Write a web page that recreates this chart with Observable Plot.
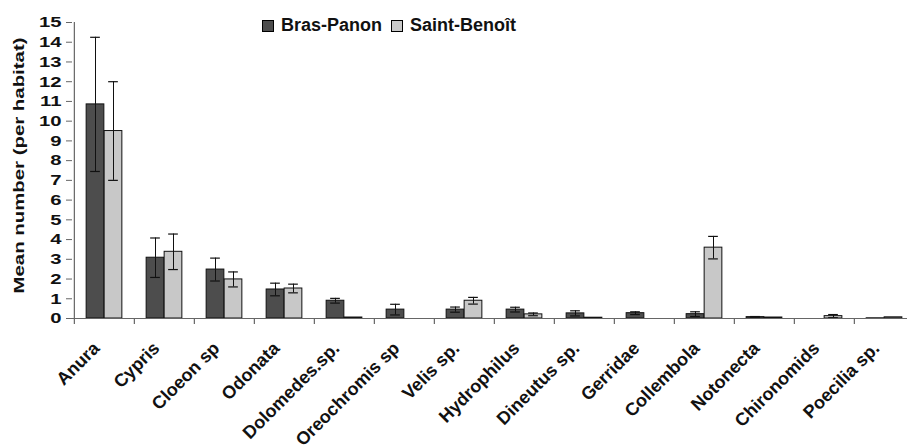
<!DOCTYPE html>
<html>
<head>
<meta charset="utf-8">
<script src="https://cdn.jsdelivr.net/npm/d3@7"></script>
<script src="https://cdn.jsdelivr.net/npm/@observablehq/plot@0.6"></script>
<style>
  html, body { margin: 0; padding: 0; background: #fff; overflow: hidden; }
  #wrap { position: relative; width: 907px; height: 446px; font-family: "Liberation Sans", Arial, sans-serif; }
  #legend { position: absolute; left: 262px; top: 15px; display: flex; align-items: center; font-weight: bold; font-size: 18px; color: #111; }
  #legend .sw { width: 10px; height: 10px; border: 1px solid #000; margin-right: 7px; }
  #legend .item { display: flex; align-items: center; margin-right: 9px; }
</style>
</head>
<body>
<div id="wrap"></div>
<script>
const categories = ["Anura","Cypris","Cloeon sp","Odonata","Dolomedes.sp.","Oreochromis sp","Velis sp.","Hydrophilus","Dineutus sp.","Gerridae","Collembola","Notonecta","Chironomids","Poecilia sp."];
const brasPanon    = [10.85, 3.08, 2.48, 1.47, 0.90, 0.45, 0.45, 0.45, 0.26, 0.27, 0.22, 0.07, 0.00, 0.01];
const brasPanonErr = [3.40, 1.00, 0.58, 0.32, 0.12, 0.27, 0.13, 0.12, 0.13, 0.07, 0.12, 0.03, 0.00, 0.00];
const saintBenoit    = [9.50, 3.38, 1.98, 1.52, 0.05, 0.00, 0.90, 0.21, 0.04, 0.00, 3.59, 0.05, 0.12, 0.06];
const saintBenoitErr = [2.50, 0.90, 0.38, 0.22, 0.00, 0.00, 0.17, 0.07, 0.00, 0.00, 0.57, 0.00, 0.08, 0.00];
const yTicks = d3.range(0, 16);
const seriesNames = ["Bras-Panon", "Saint-Benoît"];
const seriesColors = ["#4d4d4d", "#c8c8c8"];
const yTitle = "Mean number (per habitat)";

const rows = categories.map((c, i) => ({
  cat: c,
  b: brasPanon[i], be: brasPanonErr[i],
  s: saintBenoit[i], se: saintBenoitErr[i]
}));
const bErr = rows.filter(d => d.be > 0);
const sErr = rows.filter(d => d.se > 0);

const W = 907, H = 446, mL = 72, mR = 0, mT = 22, mB = 128;
const x0 = 72, x1 = 916;
const bw = (x1 - x0) / categories.length;
const barW = 18, capW = 10;
const outer = (bw - 2 * barW) / 2;
const frameH = H - mT - mB;
const font = '"Liberation Sans", Arial, sans-serif';

const chart = Plot.plot({
  width: W,
  height: H,
  marginLeft: mL,
  marginRight: mR,
  marginTop: mT,
  marginBottom: mB,
  style: {fontFamily: font, background: "#fff", color: "#111"},
  x: {type: "band", domain: categories, range: [x0, x1], padding: 0, axis: null},
  y: {domain: [0, 15], axis: null},
  marks: [
    // bars
    Plot.barY(rows, {x: "cat", y: "b", fill: seriesColors[0], stroke: "#111", strokeWidth: 1, insetLeft: outer, insetRight: bw - outer - barW}),
    Plot.barY(rows, {x: "cat", y: "s", fill: seriesColors[1], stroke: "#111", strokeWidth: 1, insetLeft: outer + barW, insetRight: outer}),
    // error bars
    Plot.ruleX(bErr, {x: "cat", y1: d => d.b - d.be, y2: d => d.b + d.be, dx: -barW / 2, stroke: "#111", strokeWidth: 1}),
    Plot.ruleX(sErr, {x: "cat", y1: d => d.s - d.se, y2: d => d.s + d.se, dx: barW / 2, stroke: "#111", strokeWidth: 1}),
    Plot.tickY(bErr, {x: "cat", y: d => d.b + d.be, stroke: "#111", strokeWidth: 1.2, insetLeft: bw / 2 - barW / 2 - capW / 2, insetRight: bw / 2 + barW / 2 - capW / 2}),
    Plot.tickY(bErr, {x: "cat", y: d => d.b - d.be, stroke: "#111", strokeWidth: 1.2, insetLeft: bw / 2 - barW / 2 - capW / 2, insetRight: bw / 2 + barW / 2 - capW / 2}),
    Plot.tickY(sErr, {x: "cat", y: d => d.s + d.se, stroke: "#111", strokeWidth: 1.2, insetLeft: bw / 2 + barW / 2 - capW / 2, insetRight: bw / 2 - barW / 2 - capW / 2}),
    Plot.tickY(sErr, {x: "cat", y: d => d.s - d.se, stroke: "#111", strokeWidth: 1.2, insetLeft: bw / 2 + barW / 2 - capW / 2, insetRight: bw / 2 - barW / 2 - capW / 2}),
    // axes lines
    Plot.ruleY([0], {stroke: "#666", strokeWidth: 1.2}),
    Plot.ruleX([categories[0]], {x: d => d, y1: 0, y2: 15, dx: -bw / 2, stroke: "#666", strokeWidth: 1.2}),
    // x category boundary ticks (below the baseline)
    Plot.ruleX(categories, {x: d => d, insetTop: frameH, insetBottom: -6, dx: -bw / 2, stroke: "#666", strokeWidth: 1.2}),
    // y axis
    Plot.axisY({ticks: yTicks, tickSize: 6, tickPadding: 5, stroke: "#666", fontSize: 15, fontWeight: "bold", fill: "#111", label: null}),
    // x labels
    Plot.text(categories, {x: d => d, text: d => d, frameAnchor: "bottom", dx: -4, dy: 31, rotate: -45, textAnchor: "end", lineAnchor: "bottom", fontSize: 18, fontWeight: "bold", fill: "#111"}),
    // y title
    Plot.text([yTitle], {text: d => d, frameAnchor: "left", dx: -53, dy: -5, rotate: -90, textAnchor: "middle", lineAnchor: "middle", fontSize: 15, fontWeight: "bold", fill: "#111"})
  ]
});

// horizontal stretch of the axis texts, as in the reference
chart.querySelectorAll('g[aria-label="y-axis tick label"] text').forEach(t => {
  const tr = t.getAttribute("transform") || "";
  t.setAttribute("transform", tr + " scale(1.35,1)");
});
chart.querySelectorAll("text").forEach(t => {
  if (t.textContent === yTitle) {
    const tr = t.getAttribute("transform") || "";
    t.setAttribute("transform", tr + " scale(1.36,1)");
  }
});

const wrap = document.getElementById("wrap");
wrap.appendChild(chart);

const legend = document.createElement("div");
legend.id = "legend";
seriesNames.forEach((n, i) => {
  const item = document.createElement("div");
  item.className = "item";
  const sw = document.createElement("div");
  sw.className = "sw";
  sw.style.background = seriesColors[i];
  const lab = document.createElement("span");
  lab.textContent = n;
  item.appendChild(sw);
  item.appendChild(lab);
  legend.appendChild(item);
});
wrap.appendChild(legend);
</script>
</body>
</html>
